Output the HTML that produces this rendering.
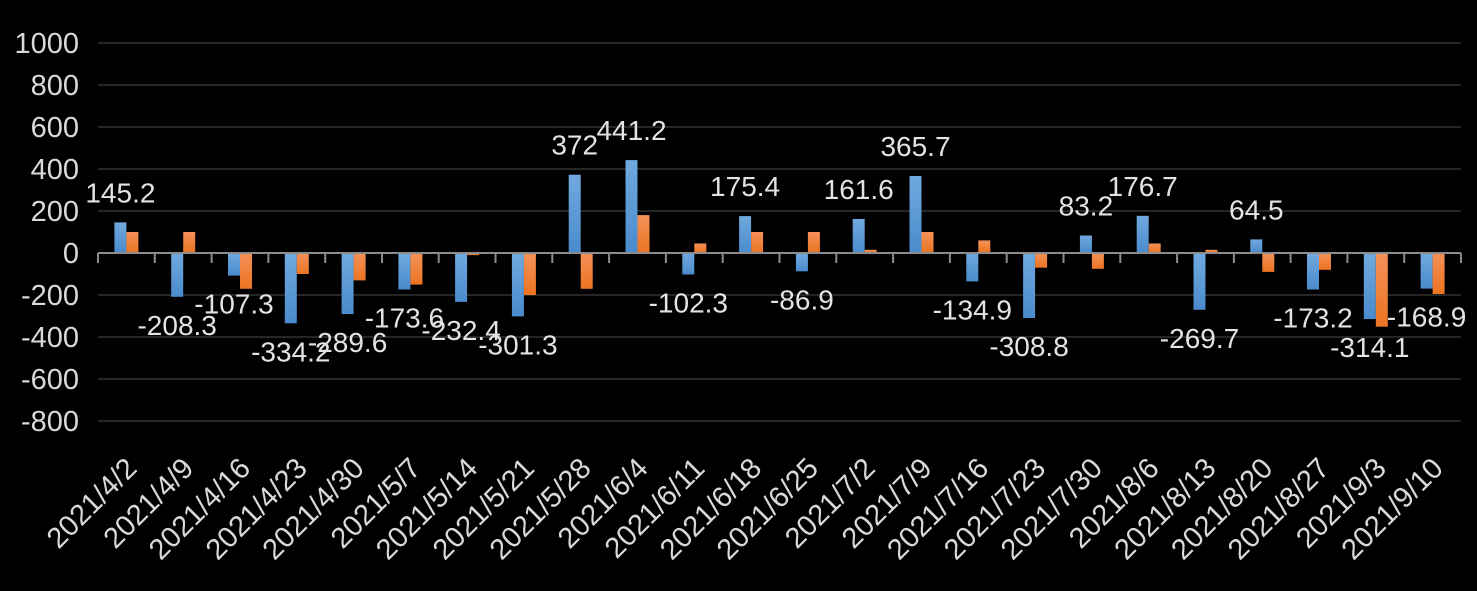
<!DOCTYPE html>
<html><head><meta charset="utf-8"><style>html,body{margin:0;padding:0;background:#000;}svg{display:block}</style></head>
<body>
<svg width="1477" height="591" viewBox="0 0 1477 591" xmlns="http://www.w3.org/2000/svg" font-family="Liberation Sans, sans-serif">
<defs>
<linearGradient id="b" x1="0" y1="0" x2="0" y2="1"><stop offset="0" stop-color="#70a9de"/><stop offset="1" stop-color="#4a8bcd"/></linearGradient>
<linearGradient id="o" x1="0" y1="0" x2="0" y2="1"><stop offset="0" stop-color="#f49159"/><stop offset="1" stop-color="#ec7421"/></linearGradient>
</defs>
<rect width="1477" height="591" fill="#000"/>
<g stroke="#262626" stroke-width="2">
<line x1="98" x2="1461" y1="43" y2="43"/><line x1="98" x2="1461" y1="85" y2="85"/><line x1="98" x2="1461" y1="127" y2="127"/><line x1="98" x2="1461" y1="169" y2="169"/><line x1="98" x2="1461" y1="211" y2="211"/><line x1="98" x2="1461" y1="295" y2="295"/><line x1="98" x2="1461" y1="337" y2="337"/><line x1="98" x2="1461" y1="379" y2="379"/><line x1="98" x2="1461" y1="421" y2="421"/>
</g>
<g fill="#d9d9d9" font-size="29" text-anchor="end">
<text x="79" y="53">1000</text><text x="79" y="95">800</text><text x="79" y="137">600</text><text x="79" y="179">400</text><text x="79" y="221">200</text><text x="79" y="263">0</text><text x="79" y="305">-200</text><text x="79" y="347">-400</text><text x="79" y="389">-600</text><text x="79" y="431">-800</text>
</g>
<g fill="url(#b)">
<rect x="114.4" y="222.4" width="12" height="30.6"/>
<rect x="171.2" y="253" width="12" height="43.8"/>
<rect x="228" y="253" width="12" height="22.6"/>
<rect x="284.8" y="253" width="12" height="70.3"/>
<rect x="341.6" y="253" width="12" height="61"/>
<rect x="398.4" y="253" width="12" height="36.5"/>
<rect x="455.1" y="253" width="12" height="48.9"/>
<rect x="511.9" y="253" width="12" height="63.4"/>
<rect x="568.7" y="174.7" width="12" height="78.3"/>
<rect x="625.5" y="160.1" width="12" height="92.9"/>
<rect x="682.3" y="253" width="12" height="21.5"/>
<rect x="739.1" y="216.1" width="12" height="36.9"/>
<rect x="795.9" y="253" width="12" height="18.3"/>
<rect x="852.7" y="219" width="12" height="34"/>
<rect x="909.5" y="176" width="12" height="77"/>
<rect x="966.3" y="253" width="12" height="28.4"/>
<rect x="1023.1" y="253" width="12" height="65"/>
<rect x="1079.9" y="235.5" width="12" height="17.5"/>
<rect x="1136.7" y="215.8" width="12" height="37.2"/>
<rect x="1193.5" y="253" width="12" height="56.8"/>
<rect x="1250.3" y="239.4" width="12" height="13.6"/>
<rect x="1307" y="253" width="12" height="36.5"/>
<rect x="1363.8" y="253" width="12" height="66.1"/>
<rect x="1420.6" y="253" width="12" height="35.6"/>
</g>
<g fill="url(#o)">
<rect x="126.4" y="232" width="12" height="21"/>
<rect x="183.2" y="232" width="12" height="21"/>
<rect x="240" y="253" width="12" height="35.8"/>
<rect x="296.8" y="253" width="12" height="21"/>
<rect x="353.6" y="253" width="12" height="27.4"/>
<rect x="410.4" y="253" width="12" height="31.6"/>
<rect x="467.1" y="253" width="12" height="2.1"/>
<rect x="523.9" y="253" width="12" height="42"/>
<rect x="580.7" y="253" width="12" height="35.8"/>
<rect x="637.5" y="215.1" width="12" height="37.9"/>
<rect x="694.3" y="243.5" width="12" height="9.5"/>
<rect x="751.1" y="232" width="12" height="21"/>
<rect x="807.9" y="232" width="12" height="21"/>
<rect x="864.7" y="249.8" width="12" height="3.2"/>
<rect x="921.5" y="232" width="12" height="21"/>
<rect x="978.3" y="240.4" width="12" height="12.6"/>
<rect x="1035.1" y="253" width="12" height="14.7"/>
<rect x="1091.9" y="253" width="12" height="15.8"/>
<rect x="1148.7" y="243.5" width="12" height="9.5"/>
<rect x="1205.5" y="249.8" width="12" height="3.2"/>
<rect x="1262.3" y="253" width="12" height="18.9"/>
<rect x="1319" y="253" width="12" height="16.8"/>
<rect x="1375.8" y="253" width="12" height="73.7"/>
<rect x="1432.6" y="253" width="12" height="41"/>
</g>
<g stroke="#8c8c8c" stroke-width="2">
<line x1="98" x2="1461" y1="253" y2="253"/>
<line x1="98" x2="98" y1="253" y2="263"/><line x1="154.8" x2="154.8" y1="253" y2="263"/><line x1="211.6" x2="211.6" y1="253" y2="263"/><line x1="268.4" x2="268.4" y1="253" y2="263"/><line x1="325.2" x2="325.2" y1="253" y2="263"/><line x1="382" x2="382" y1="253" y2="263"/><line x1="438.7" x2="438.7" y1="253" y2="263"/><line x1="495.5" x2="495.5" y1="253" y2="263"/><line x1="552.3" x2="552.3" y1="253" y2="263"/><line x1="609.1" x2="609.1" y1="253" y2="263"/><line x1="665.9" x2="665.9" y1="253" y2="263"/><line x1="722.7" x2="722.7" y1="253" y2="263"/><line x1="779.5" x2="779.5" y1="253" y2="263"/><line x1="836.3" x2="836.3" y1="253" y2="263"/><line x1="893.1" x2="893.1" y1="253" y2="263"/><line x1="949.9" x2="949.9" y1="253" y2="263"/><line x1="1006.7" x2="1006.7" y1="253" y2="263"/><line x1="1063.5" x2="1063.5" y1="253" y2="263"/><line x1="1120.3" x2="1120.3" y1="253" y2="263"/><line x1="1177.1" x2="1177.1" y1="253" y2="263"/><line x1="1233.9" x2="1233.9" y1="253" y2="263"/><line x1="1290.6" x2="1290.6" y1="253" y2="263"/><line x1="1347.4" x2="1347.4" y1="253" y2="263"/><line x1="1404.2" x2="1404.2" y1="253" y2="263"/><line x1="1461" x2="1461" y1="253" y2="263"/>
</g>
<g fill="#e3e3e3" font-size="28" text-anchor="middle">
<text x="120.4" y="202.4">145.2</text>
<text x="177.2" y="334.8">-208.3</text>
<text x="234" y="313.6">-107.3</text>
<text x="290.8" y="361.3">-334.2</text>
<text x="347.6" y="352">-289.6</text>
<text x="404.4" y="327.5">-173.6</text>
<text x="461.1" y="339.9">-232.4</text>
<text x="517.9" y="354.4">-301.3</text>
<text x="574.7" y="154.7">372</text>
<text x="631.5" y="140.1">441.2</text>
<text x="688.3" y="312.5">-102.3</text>
<text x="745.1" y="196.1">175.4</text>
<text x="801.9" y="309.3">-86.9</text>
<text x="858.7" y="199">161.6</text>
<text x="915.5" y="156">365.7</text>
<text x="972.3" y="319.4">-134.9</text>
<text x="1029.1" y="356">-308.8</text>
<text x="1085.9" y="215.5">83.2</text>
<text x="1142.7" y="195.8">176.7</text>
<text x="1199.5" y="347.8">-269.7</text>
<text x="1256.3" y="219.4">64.5</text>
<text x="1313" y="327.5">-173.2</text>
<text x="1369.8" y="357.1">-314.1</text>
<text x="1426.6" y="326.6">-168.9</text>
</g>
<g fill="#d9d9d9" font-size="29" text-anchor="end">
<text transform="translate(138.4,470) rotate(-45)">2021/4/2</text>
<text transform="translate(195.2,470) rotate(-45)">2021/4/9</text>
<text transform="translate(252,470) rotate(-45)">2021/4/16</text>
<text transform="translate(308.8,470) rotate(-45)">2021/4/23</text>
<text transform="translate(365.6,470) rotate(-45)">2021/4/30</text>
<text transform="translate(422.4,470) rotate(-45)">2021/5/7</text>
<text transform="translate(479.1,470) rotate(-45)">2021/5/14</text>
<text transform="translate(535.9,470) rotate(-45)">2021/5/21</text>
<text transform="translate(592.7,470) rotate(-45)">2021/5/28</text>
<text transform="translate(649.5,470) rotate(-45)">2021/6/4</text>
<text transform="translate(706.3,470) rotate(-45)">2021/6/11</text>
<text transform="translate(763.1,470) rotate(-45)">2021/6/18</text>
<text transform="translate(819.9,470) rotate(-45)">2021/6/25</text>
<text transform="translate(876.7,470) rotate(-45)">2021/7/2</text>
<text transform="translate(933.5,470) rotate(-45)">2021/7/9</text>
<text transform="translate(990.3,470) rotate(-45)">2021/7/16</text>
<text transform="translate(1047.1,470) rotate(-45)">2021/7/23</text>
<text transform="translate(1103.9,470) rotate(-45)">2021/7/30</text>
<text transform="translate(1160.7,470) rotate(-45)">2021/8/6</text>
<text transform="translate(1217.5,470) rotate(-45)">2021/8/13</text>
<text transform="translate(1274.3,470) rotate(-45)">2021/8/20</text>
<text transform="translate(1331,470) rotate(-45)">2021/8/27</text>
<text transform="translate(1387.8,470) rotate(-45)">2021/9/3</text>
<text transform="translate(1444.6,470) rotate(-45)">2021/9/10</text>
</g>
</svg>
</body></html>
